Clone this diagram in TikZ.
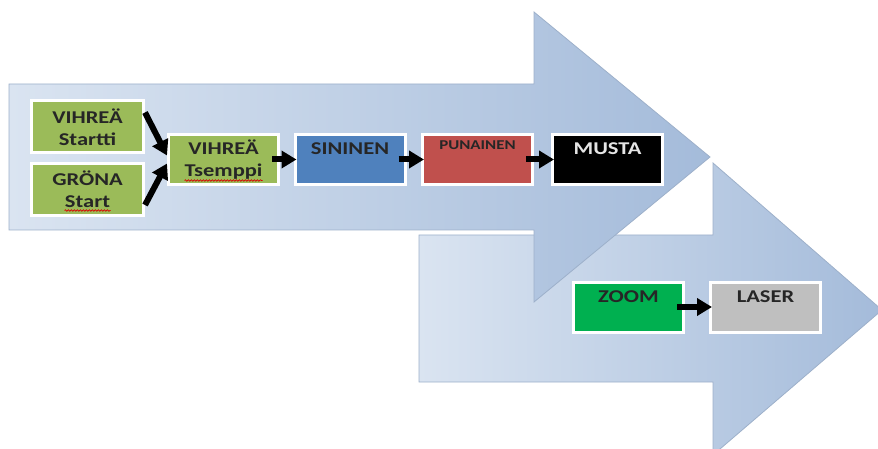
\documentclass[tikz,border=0pt]{standalone}
\usepackage{fontspec}
\setmainfont{Carlito}[FakeStretch=1.25]
\usetikzlibrary{arrows.meta,shadows,decorations.pathmorphing}
\definecolor{arrowpale}{HTML}{DAE4F1}
\definecolor{arrowdeep}{HTML}{A4BBDA}
\definecolor{arrowedge}{HTML}{9DB0CA}
\definecolor{boxgreen}{HTML}{9BBB59}
\definecolor{boxblue}{HTML}{4F81BD}
\definecolor{boxred}{HTML}{C0504D}
\definecolor{zoomgreen}{HTML}{00B050}
\definecolor{lasergray}{HTML}{BFBFBF}

\begin{document}
\begin{tikzpicture}[x=1pt, y=1pt, >={Triangle[length=15pt,width=17pt]},
  bigarrow/.style={left color=arrowpale, right color=arrowdeep, draw=arrowedge, line width=0.8pt},
  box/.style={draw=white, line width=3pt, minimum width=110pt, minimum height=50pt, align=center,
    text=black!85, font=\fontsize{18}{22}\selectfont\bfseries,
    drop shadow={shadow xshift=1.5pt, shadow yshift=-1.5pt, opacity=0.4}},
  topline/.style={text height=12pt, text depth=22pt},
  flow/.style={->, line width=6pt},
  spellmark/.style={red!85!black, line width=0.7pt, decorate, decoration={snake, segment length=3pt, amplitude=0.8pt}}]
\useasboundingbox (0,0) rectangle (878,-449);
\clip (0,0) rectangle (878,-449);
\draw[bigarrow] (419,-235) -- (713,-235) -- (713,-163) -- (882,-310) -- (713,-455) -- (713,-382) -- (419,-382) -- cycle;
\draw[bigarrow] (9,-84) -- (534,-84) -- (534,-12) -- (710,-157) -- (534,-302) -- (534,-230) -- (9,-230) -- cycle;
\node[box, fill=boxgreen, minimum width=112pt, minimum height=52pt] (startti) at (87.5,-127) {VIHREÄ\\Startti};
\node[box, fill=boxgreen, minimum width=112pt, minimum height=52pt] (grona) at (87.5,-189.5) {GRÖNA\\Start};
\node[box, fill=boxgreen] (tsemppi) at (223.5,-159.5) {VIHREÄ\\Tsemppi};
\node[box, topline, fill=boxblue] (sininen) at (350,-159.5) {SININEN};
\node[box, fill=boxred, font=\fontsize{13.5}{16}\selectfont\bfseries, text height=9pt, text depth=28pt] (punainen) at (477.5,-159.5) {PUNAINEN};
\node[box, topline, fill=black, text=white!90!black] (musta) at (607.5,-159.5) {MUSTA};
\node[box, topline, fill=zoomgreen] (zoom) at (628.5,-307) {ZOOM};
\node[box, topline, fill=lasergray] (laser) at (765.5,-307) {LASER};
\draw[spellmark] ([xshift=-39pt, yshift=-21pt]tsemppi.center) -- ([xshift=39pt, yshift=-21pt]tsemppi.center);
\draw[spellmark] ([xshift=-23pt, yshift=-21pt]grona.center) -- ([xshift=23pt, yshift=-21pt]grona.center);
\draw[flow] ([yshift=-13pt]startti.north east) -- ([yshift=4pt]tsemppi.west);
\draw[flow] ([yshift=12pt]grona.south east) -- ([yshift=-4pt]tsemppi.west);
\foreach \a/\b in {tsemppi/sininen, sininen/punainen, punainen/musta, zoom/laser}
  \draw[flow, shorten <=-8pt, shorten >=-3pt] (\a.east) -- (\b.west);
\end{tikzpicture}
\end{document}
